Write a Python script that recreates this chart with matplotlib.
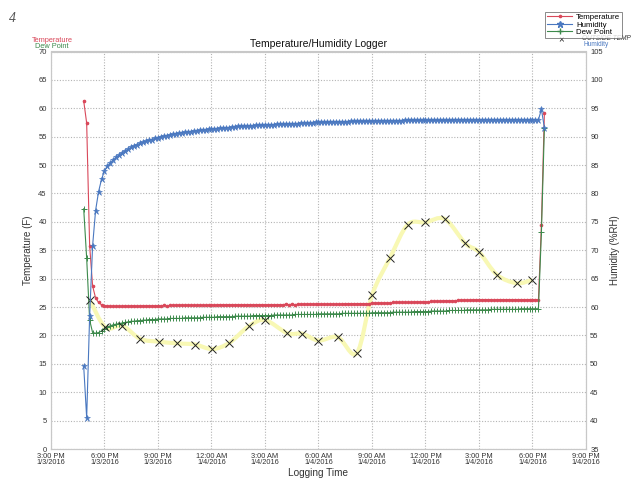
import matplotlib
matplotlib.use("Agg")
import matplotlib.pyplot as plt
import matplotlib.dates as mdates
from matplotlib.path import Path
from matplotlib.patches import PathPatch
from matplotlib.lines import Line2D
from matplotlib.ticker import MultipleLocator
import numpy as np
import pandas as pd

# ---------------- data ----------------
log_start = "2016-01-03 16:50"
log_interval = "10min"

temperature = [
    61.3, 57.4, 35.8, 28.7, 26.6, 25.8, 25.4, 25.2,
    25.2, 25.1, 25.1, 25.1, 25.1, 25.1, 25.2, 25.1,
    25.2, 25.2, 25.1, 25.2, 25.2, 25.2, 25.2, 25.2, 25.2, 25.2,
    25.2, 25.3, 25.2, 25.3, 25.3, 25.3, 25.3, 25.3, 25.3, 25.3,
    25.3, 25.3, 25.3, 25.3, 25.3, 25.3, 25.3, 25.4, 25.3, 25.4,
    25.4, 25.4, 25.4, 25.4, 25.4, 25.4, 25.4, 25.4, 25.4, 25.4,
    25.4, 25.4, 25.4, 25.4, 25.4, 25.4, 25.4, 25.4, 25.4, 25.4,
    25.4, 25.4, 25.5, 25.4, 25.5, 25.4, 25.5, 25.5, 25.5, 25.5,
    25.5, 25.5, 25.5, 25.5, 25.5, 25.5, 25.5, 25.5, 25.5, 25.5,
    25.5, 25.5, 25.6, 25.6, 25.6, 25.6, 25.6, 25.6, 25.6, 25.6,
    25.6, 25.7, 25.7, 25.7, 25.7, 25.7, 25.7, 25.7, 25.8, 25.8,
    25.8, 25.8, 25.8, 25.8, 25.8, 25.9, 25.9, 25.9, 25.9, 25.9,
    25.9, 26.0, 26.0, 26.0, 26.0, 26.1, 26.1, 26.1, 26.1, 26.1,
    26.2, 26.2, 26.2, 26.2, 26.2, 26.3, 26.3, 26.3, 26.3, 26.3,
    26.3, 26.3, 26.2, 26.3, 26.3, 26.3, 26.3, 26.3, 26.3, 26.3,
    26.3, 26.3, 26.3, 26.3, 26.3, 26.3, 26.3, 26.3,
    39.5, 59.2,
]

humidity = [
    49.6, 40.5, 58.4, 70.8, 77.0, 80.3, 82.5, 84.0,
    84.8, 85.4, 85.9, 86.4, 86.8, 87.2, 87.5, 87.8,
    88.1, 88.4, 88.6, 88.8, 89.0, 89.2, 89.4, 89.5, 89.7, 89.8,
    90.0, 90.1, 90.2, 90.3, 90.4, 90.5, 90.6, 90.7, 90.8, 90.8,
    90.9, 91.0, 91.0, 91.1, 91.2, 91.2, 91.3, 91.3, 91.4, 91.4,
    91.5, 91.5, 91.6, 91.6, 91.7, 91.7, 91.8, 91.8, 91.8, 91.9,
    91.9, 91.9, 92.0, 92.0, 92.0, 92.1, 92.1, 92.1, 92.1, 92.2,
    92.2, 92.2, 92.2, 92.3, 92.3, 92.3, 92.3, 92.4, 92.4, 92.4,
    92.4, 92.4, 92.5, 92.5, 92.5, 92.5, 92.5, 92.6, 92.6, 92.6,
    92.6, 92.6, 92.6, 92.6, 92.7, 92.7, 92.7, 92.7, 92.7, 92.7,
    92.7, 92.7, 92.8, 92.8, 92.8, 92.8, 92.8, 92.8, 92.8, 92.8,
    92.8, 92.8, 92.9, 92.9, 92.9, 92.9, 92.9, 92.9, 92.9, 92.9,
    92.9, 92.9, 92.9, 92.9, 92.9, 92.9, 92.9, 92.9, 92.9, 93.0,
    93.0, 93.0, 93.0, 93.0, 93.0, 93.0, 93.0, 93.0, 93.0, 93.0,
    93.0, 93.0, 93.0, 93.0, 93.0, 93.0, 93.0, 93.0, 93.0, 93.0,
    93.0, 93.0, 93.0, 93.0, 93.0, 93.0, 93.0, 93.0,
    94.8, 91.6,
]

dew_point = [
    42.3, 33.6, 22.7, 20.5, 20.4, 20.5, 20.8, 21.2,
    21.5, 21.7, 21.9, 22.0, 22.1, 22.2, 22.3, 22.4,
    22.5, 22.5, 22.6, 22.6, 22.7, 22.7, 22.8, 22.8, 22.8, 22.9,
    22.9, 22.9, 22.9, 23.0, 23.0, 23.0, 23.0, 23.0, 23.1, 23.1,
    23.1, 23.1, 23.1, 23.1, 23.2, 23.2, 23.2, 23.2, 23.2, 23.3,
    23.3, 23.3, 23.3, 23.3, 23.3, 23.4, 23.4, 23.4, 23.4, 23.4,
    23.4, 23.5, 23.5, 23.5, 23.5, 23.5, 23.5, 23.5, 23.6, 23.6,
    23.6, 23.6, 23.6, 23.6, 23.6, 23.7, 23.7, 23.7, 23.7, 23.7,
    23.7, 23.7, 23.7, 23.8, 23.8, 23.8, 23.8, 23.8, 23.8, 23.8,
    23.8, 23.9, 23.9, 23.9, 23.9, 23.9, 23.9, 23.9, 23.9, 23.9,
    23.9, 24.0, 24.0, 24.0, 24.0, 24.0, 24.0, 24.0, 24.1, 24.1,
    24.1, 24.1, 24.1, 24.1, 24.1, 24.2, 24.2, 24.2, 24.2, 24.2,
    24.2, 24.3, 24.3, 24.3, 24.3, 24.3, 24.3, 24.4, 24.4, 24.4,
    24.4, 24.4, 24.4, 24.5, 24.5, 24.5, 24.5, 24.5, 24.5, 24.5,
    24.5, 24.6, 24.6, 24.6, 24.6, 24.6, 24.6, 24.6, 24.6, 24.6,
    24.6, 24.7, 24.7, 24.7, 24.7, 24.7, 24.7, 24.7,
    38.2, 56.6,
]

outside_times = [
    "2016-01-03 17:10", "2016-01-03 18:03", "2016-01-03 19:00", "2016-01-03 20:00",
    "2016-01-03 21:02", "2016-01-03 22:05", "2016-01-03 23:05", "2016-01-04 00:03",
    "2016-01-04 01:00", "2016-01-04 02:05", "2016-01-04 03:00", "2016-01-04 04:15",
    "2016-01-04 05:06", "2016-01-04 06:00", "2016-01-04 07:05", "2016-01-04 08:09",
    "2016-01-04 09:00", "2016-01-04 10:00", "2016-01-04 11:00", "2016-01-04 12:00",
    "2016-01-04 13:05", "2016-01-04 14:14", "2016-01-04 15:00", "2016-01-04 16:00",
    "2016-01-04 17:07", "2016-01-04 18:00",
]
outside_temp = [
    26.3, 21.4, 21.7, 19.4, 18.9, 18.6, 18.4, 17.6,
    18.7, 21.6, 22.7, 20.4, 20.3, 19.1, 19.7, 16.9,
    27.1, 33.6, 39.5, 39.9, 40.5, 36.2, 34.7, 30.7,
    29.2, 29.8,
]

x_tick_labels = [
    "3:00 PM\n1/3/2016", "6:00 PM\n1/3/2016", "9:00 PM\n1/3/2016",
    "12:00 AM\n1/4/2016", "3:00 AM\n1/4/2016", "6:00 AM\n1/4/2016",
    "9:00 AM\n1/4/2016", "12:00 PM\n1/4/2016", "3:00 PM\n1/4/2016",
    "6:00 PM\n1/4/2016", "9:00 PM\n1/4/2016",
]
legend_labels = ["Temperature", "Humidity", "Dew Point"]

# ---------------- figure ----------------
plt.rcParams['font.family'] = ['Liberation Sans', 'DejaVu Sans']
times = pd.date_range(log_start, periods=len(temperature), freq=log_interval)
tick_times = pd.date_range("2016-01-03 15:00", "2016-01-04 21:00", freq="3h")
out_t = pd.to_datetime(outside_times)

fig = plt.figure(figsize=(6.4, 4.94), dpi=100)
ax = fig.add_axes([51 / 640, 45 / 494, 535 / 640, 397.5 / 494])
ax2 = ax.twinx()

RED = "#d9485a"
BLUE = "#4a78c0"
GREEN = "#3d8a4c"
TXT = "#333333"

ax.set_xlim(mdates.date2num(tick_times[0]), mdates.date2num(tick_times[-1]))
ax.set_ylim(0, 70)
ax2.set_ylim(35, 105)
ax.yaxis.set_major_locator(MultipleLocator(5))
ax2.yaxis.set_major_locator(MultipleLocator(5))
ax.set_xticks(mdates.date2num(tick_times))
ax.set_xticklabels(x_tick_labels)

ax.grid(True, linestyle=(0, (1, 1.5)), color="#b4b4b4", linewidth=0.8)
ax.set_axisbelow(True)

# smoothed yellow line through outside temps (Catmull-Rom bezier)
xn = mdates.date2num(out_t)
yv = np.array(outside_temp)
pts = np.column_stack([xn, yv])
verts = [tuple(pts[0])]
codes = [Path.MOVETO]
for i in range(len(pts) - 1):
    p0 = pts[i - 1] if i > 0 else pts[i]
    p1 = pts[i]
    p2 = pts[i + 1]
    p3 = pts[i + 2] if i + 2 < len(pts) else pts[i + 1]
    c1 = p1 + (p2 - p0) / 6.0
    c2 = p2 - (p3 - p1) / 6.0
    verts += [tuple(c1), tuple(c2), tuple(p2)]
    codes += [Path.CURVE4] * 3
ax.add_patch(PathPatch(Path(verts, codes), fill=False, edgecolor="#f8f8b4",
                       linewidth=3.0, transform=ax.transData, zorder=2))

ax.plot(times, temperature, color=RED, lw=0.8, marker='.', ms=3.2, zorder=4)
ax.plot(times, dew_point, color=GREEN, lw=0.8, marker='+', ms=4.5, mew=0.7, zorder=4)
ax2.plot(times, humidity, color=BLUE, lw=0.8, marker='*', ms=4.5, mew=0.4, zorder=4)
ax.plot(out_t, outside_temp, linestyle='none', marker='x', color='#222222',
        ms=5.5, mew=0.7, zorder=5)

for a in (ax, ax2):
    for s in a.spines.values():
        s.set_color("#c8c8c8")
        s.set_linewidth(0.8)
    a.tick_params(length=0, labelsize=5.5, labelcolor=TXT, pad=3)
ax.tick_params(axis='x', labelsize=5.3, pad=3)
for lbl in ax.get_xticklabels():
    lbl.set_linespacing(0.85)

ax.set_title("Temperature/Humidity Logger", fontsize=7.5, color="#111111", pad=3)
ax.set_xlabel("Logging Time", fontsize=7.2, color=TXT, labelpad=1)
ax.set_ylabel("Temperature (F)", fontsize=7, color=TXT, labelpad=4)
ax2.set_ylabel("Humidity (%RH)", fontsize=7, color=TXT, labelpad=5)

# axis captions
fig.text(52 / 640, 1 - 40.5 / 494, "Temperature", color=RED, fontsize=5.3, ha='center', va='center')
fig.text(52 / 640, 1 - 46.5 / 494, "Dew Point", color=GREEN, fontsize=5.3, ha='center', va='center')
fig.text(596 / 640, 1 - 45.0 / 494, "Humidity", color=BLUE, fontsize=4.7, ha='center', va='center')

# legend
handles = [
    Line2D([], [], color=RED, lw=0.8, marker='.', ms=3.2),
    Line2D([], [], color=BLUE, lw=0.8, marker='*', ms=4.5),
    Line2D([], [], color=GREEN, lw=0.8, marker='+', ms=4.5),
]
leg = fig.legend(handles, legend_labels,
                 loc='upper right', bbox_to_anchor=(622 / 640, 1 - 12 / 494),
                 fontsize=5.7, frameon=True, fancybox=False,
                 handlelength=3.2, handletextpad=0.5, labelspacing=0.0,
                 borderpad=0.2, borderaxespad=0)
leg.get_frame().set_edgecolor("#555555")
leg.get_frame().set_linewidth(0.6)

# handwritten annotations
fig.text(561 / 640, 1 - 39 / 494, "×", fontsize=7, color="#222222", ha='center', va='center')
fig.text(582 / 640, 1 - 38.5 / 494, "OUTSIDE TEMP", fontsize=4.7, color="#333333",
         ha='left', va='center', style='italic')
fig.text(12 / 640, 1 - 18 / 494, "4", fontsize=10, color="#555555", ha='center', va='center',
         family=['Liberation Serif', 'DejaVu Serif'], style='italic')

fig.savefig("out.png", dpi=100)
